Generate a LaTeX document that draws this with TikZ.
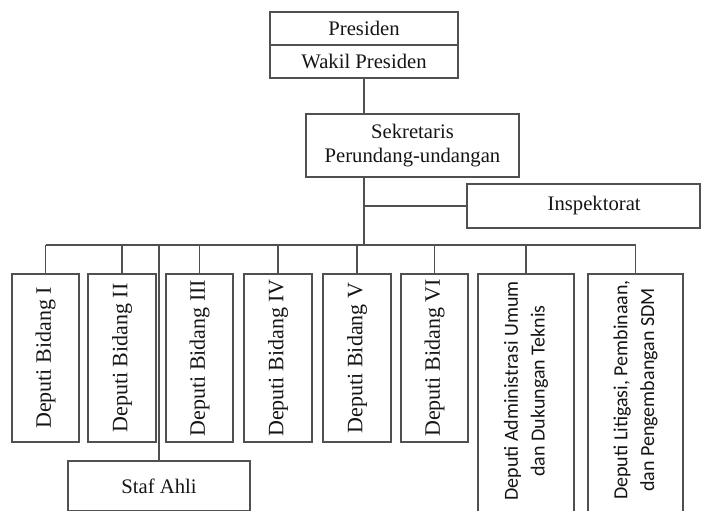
\documentclass[tikz,border=0pt]{standalone}
\usepackage{fontspec}
\setmainfont{Liberation Serif}
\newfontfamily\calib{Carlito}
\definecolor{linec}{HTML}{505050}
\definecolor{txtc}{HTML}{151515}
\begin{document}
\begin{tikzpicture}[x=0.75pt,y=-0.75pt,
  box/.style={draw=linec,line width=1.1pt,rectangle,inner sep=0pt,text=txtc,
    font=\fontsize{15.5}{18}\selectfont,align=center},
  dep/.style={box,minimum height=168*0.75pt},
  tall/.style={box,minimum height=290*0.75pt},
  rot/.style={rotate=90,text=txtc,align=center,inner sep=0pt},
  rotser/.style={rot,font=\fontsize{16.5}{18}\selectfont},
  rotsan/.style={rot,font=\calib\fontsize{15}{20}\selectfont},
  conn/.style={draw=linec,line width=1.1pt}]
\clip (0,0) rectangle (702,510);
\useasboundingbox (0,0) rectangle (702,510);
% top
\node[box,minimum width=188*0.75pt,minimum height=33*0.75pt] (pres) at (364,28.5) {Presiden};
\node[box,minimum width=188*0.75pt,minimum height=33*0.75pt] (wakil) at (364,61.5) {Wakil Presiden};
\node[box,minimum width=213*0.75pt,minimum height=63*0.75pt] (sek) at (412.5,145.5) {Sekretaris\\Perundang-undangan};
\node[box,minimum width=233*0.75pt,minimum height=44*0.75pt,
  label={[text=txtc,font=\fontsize{15.5}{18}\selectfont,xshift=8pt]center:Inspektorat}] (insp) at (583.5,206) {};
\coordinate (bus) at (364,245);
% deputies
\node[dep,minimum width=67*0.75pt] (d1) at (45.5,358) {};
\node[rotser] (t1) at (d1.center) {Deputi Bidang I};
\node[dep,minimum width=68*0.75pt] (d2) at (122,358) {};
\node[rotser] (t2) at (d2.center) {Deputi Bidang II};
\node[dep,minimum width=67*0.75pt] (d3) at (199.5,358) {};
\node[rotser] (t3) at (d3.center) {Deputi Bidang III};
\node[dep,minimum width=68*0.75pt] (d4) at (278,358) {};
\node[rotser] (t4) at (d4.center) {Deputi Bidang IV};
\node[dep,minimum width=68*0.75pt] (d5) at (357,358) {};
\node[rotser] (t5) at (d5.center) {Deputi Bidang V};
\node[dep,minimum width=67*0.75pt] (d6) at (434.5,358) {};
\node[rotser] (t6) at (d6.center) {Deputi Bidang VI};
\node[tall,minimum width=96*0.75pt] (d7) at (526,419) {};
\node[rotsan] (t7) at (526,391) {Deputi Administrasi Umum\\dan Dukungan Teknis};
\node[tall,minimum width=95*0.75pt] (d8) at (635.5,419) {};
\node[rotsan] (t8) at (635.5,390) {Deputi Litigasi, Pembinaan,\\dan Pengembangan SDM};
\node[box,minimum width=182*0.75pt,minimum height=50*0.75pt] (staf) at (159,486) {Staf Ahli};
% connectors
\draw[conn] (wakil.south) -- (sek.north -| wakil.south);
\draw[conn] (sek.south -| wakil.south) -- (bus);
\draw[conn] (insp.west) -- (insp.west -| bus);
\draw[conn] (d1.north |- bus) -- (d8.north |- bus);
\foreach \d in {d1,d2,d3,d4,d5,d6,d7,d8}{\draw[conn] (\d.north) -- (\d.north |- bus);}
\draw[conn] (staf.north) -- (staf.north |- bus);
\end{tikzpicture}
\end{document}
